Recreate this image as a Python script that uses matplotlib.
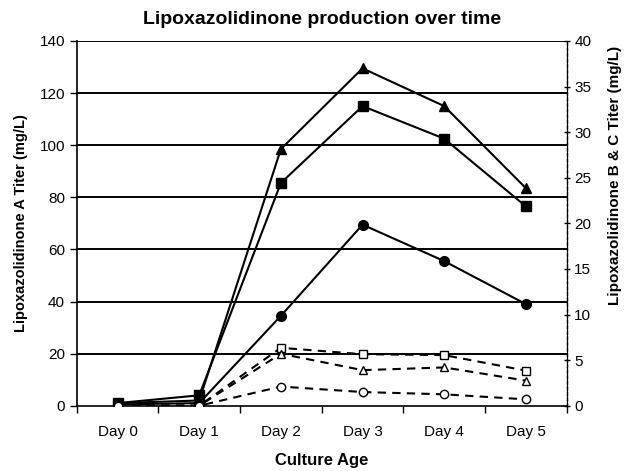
import matplotlib.pyplot as plt

plt.rcParams["font.family"] = ["Liberation Sans", "DejaVu Sans"]

# Dados
days = ["Day 0", "Day 1", "Day 2", "Day 3", "Day 4", "Day 5"]

# Lipoxazolidinone A (eixo esquerdo)
a_triangle = [1.0, 2.0, 98.5, 129.5, 115.0, 83.5]
a_square = [1.0, 4.0, 85.5, 115.0, 102.5, 76.5]
a_circle = [0.5, 1.0, 34.5, 69.5, 55.5, 39.0]

# Lipoxazolidinone B & C (eixo direito)
bc_square = [0.0, 0.0, 6.35, 5.65, 5.55, 3.85]
bc_triangle = [0.0, 0.0, 5.7, 3.9, 4.2, 2.75]
bc_circle = [0.0, 0.0, 2.1, 1.5, 1.25, 0.7]

x = list(range(len(days)))

fig = plt.figure(figsize=(6.32, 4.71), dpi=100)
ax = fig.add_axes([0.1214, 0.1386, 0.7753, 0.7744])
ax2 = ax.twinx()

# linhas de grade
for v in range(20, 141, 20):
    ax.axhline(v, color="black", linewidth=1.4, zorder=1)

# Série A: linhas sólidas, marcadores cheios
ax.plot(x, a_triangle, color="black", linewidth=1.5, marker="^", markersize=7, zorder=3)
ax.plot(x, a_square, color="black", linewidth=1.5, marker="s", markersize=7, zorder=3)
ax.plot(x, a_circle, color="black", linewidth=1.5, marker="o", markersize=7, zorder=3)

# Séries B & C: linhas tracejadas, marcadores vazios
for vals, m in [(bc_square, "s"), (bc_triangle, "^"), (bc_circle, "o")]:
    ax2.plot(x, vals, color="black", linewidth=1.5, linestyle=(0, (4, 3)),
             marker=m, markersize=6, markerfacecolor="white",
             markeredgecolor="black", markeredgewidth=1.0, zorder=3)

ax.set_xlim(-0.5, 5.5)
ax.set_ylim(0, 140)
ax2.set_ylim(0, 40)

ax.set_yticks(range(0, 141, 20))
ax2.set_yticks(range(0, 41, 5))
ax.set_xticks([i + 0.5 for i in range(-1, 6)])
ax.set_xticklabels([])
ax.set_xticks(x, minor=True)
ax.set_xticklabels(days, minor=True)
ax.tick_params(axis="x", which="minor", length=0, pad=14, labelsize=11)
ax.tick_params(axis="x", which="major", length=5, direction="out", width=1)
ax.tick_params(axis="y", length=5, direction="out", width=1, labelsize=11)
ax2.tick_params(axis="y", length=4, direction="inout", width=1, labelsize=11)

ax.spines["top"].set_visible(False)
ax2.spines["top"].set_visible(False)
ax2.spines["right"].set_linestyle((0, (2, 2)))
ax2.spines["right"].set_linewidth(1.0)
ax.spines["left"].set_linewidth(1.2)
ax.spines["bottom"].set_linewidth(1.2)
ax2.spines["left"].set_visible(False)
ax2.spines["bottom"].set_visible(False)

ax.set_title("Lipoxazolidinone production over time", fontsize=14,
             fontweight="bold", pad=12)
ax.set_xlabel("Culture Age", fontsize=12, fontweight="bold", labelpad=10)
ax.set_ylabel("Lipoxazolidinone A Titer (mg/L)", fontsize=10.5, fontweight="bold", labelpad=8)
ax2.set_ylabel("Lipoxazolidinone B & C Titer (mg/L)", fontsize=11, fontweight="bold")
ax2.yaxis.set_label_coords(1.085, 0.63)

plt.savefig("out.png", dpi=100)
plt.close()
